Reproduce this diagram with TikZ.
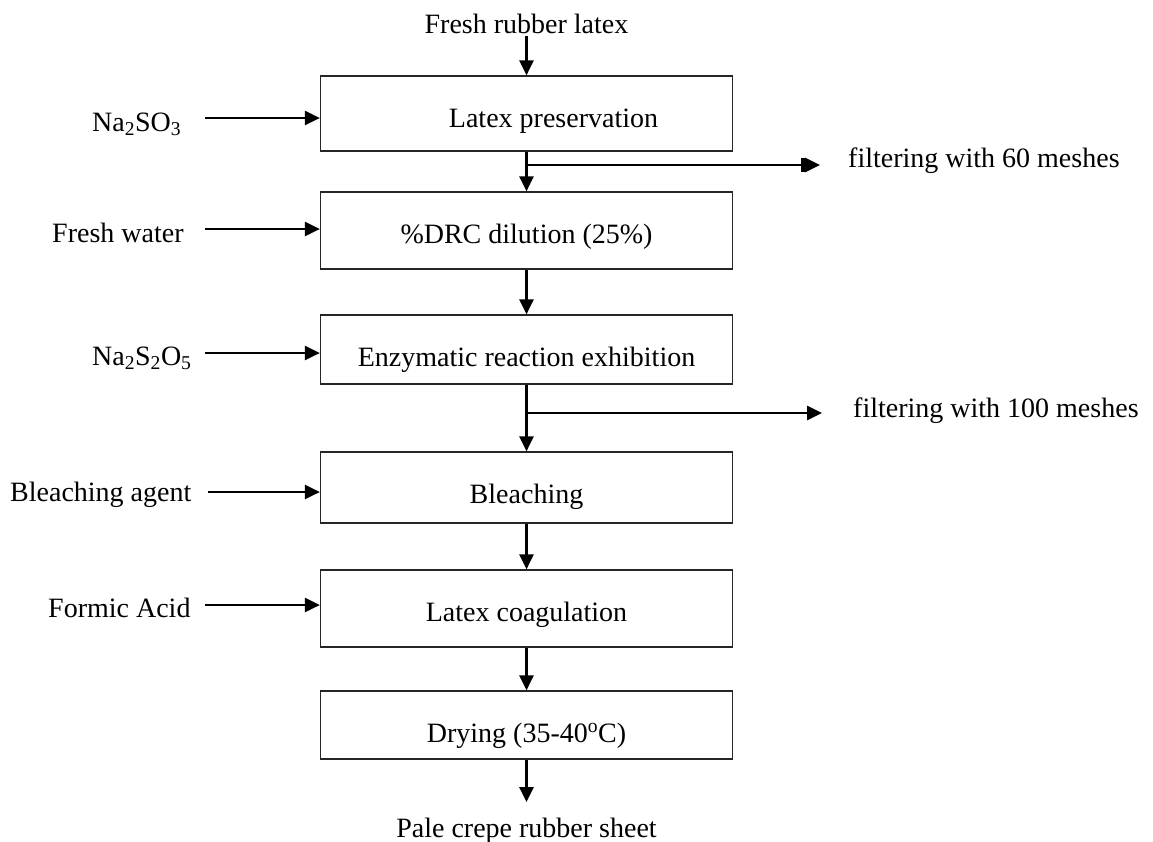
\documentclass[tikz,border=0pt]{standalone}
\usepackage{fontspec}
\setmainfont{Liberation Serif}
\usetikzlibrary{arrows.meta}

\begin{document}
\begin{tikzpicture}[x=1pt,y=-1pt,
  txt/.style={font=\fontsize{28}{34}\selectfont, inner sep=0pt},
  stepbox/.style={draw=black!85, line width=1.2pt, rectangle, inner sep=0pt,
    minimum width=412pt, text height=51pt, font=\fontsize{28}{34}\selectfont},
  flow/.style={line width=2.6pt, -{Triangle[length=15pt,width=14pt]}},
  flowbar/.style={line width=2.6pt,
    -{Bar[width=14pt,line width=4pt,sep=0pt]Triangle[length=15pt,width=14pt]}}]

  \useasboundingbox (0,0) rectangle (1153,841);

  % process steps
  \node[stepbox, text depth=24pt] (b1) at (526.5,113.5) {\hspace*{54pt}Latex preservation};
  \node[stepbox, text depth=26pt] (b2) at (526.5,230.5) {\%DRC dilution (25\%)};
  \node[stepbox, text depth=18pt] (b3) at (526.5,349.5) {Enzymatic reaction exhibition};
  \node[stepbox, text depth=20pt] (b4) at (526.5,487.5) {Bleaching};
  \node[stepbox, text depth=26pt] (b5) at (526.5,608.5) {Latex coagulation};
  \node[stepbox, text depth=17pt] (b6) at (526.5,725) {Drying (35-40\textsuperscript{o}C)};

  % feed and product
  \node[txt, anchor=base] (feed) at (526.5,33) {Fresh rubber latex};
  \coordinate (feedend) at (526.5,36);
  \node[txt, anchor=base] (prod) at (526.5,837) {Pale crepe rubber sheet};
  \coordinate (prodtop) at (526.5,802);

  % main flow
  \draw[flow] (feedend) -- (b1.north);
  \draw[flow] (b1.south) -- (b2.north);
  \draw[flow] (b2.south) -- (b3.north);
  \draw[flow] (b3.south) -- (b4.north);
  \draw[flow] (b4.south) -- (b5.north);
  \draw[flow] (b5.south) -- (b6.north);
  \draw[flow] (b6.south) -- (prodtop);

  % filtering side streams
  \coordinate (f1) at (820,165);
  \coordinate (f2) at (822,413);
  \draw[flowbar] (b1.south |- f1) -- (f1);
  \draw[flow] (b3.south |- f2) -- (f2);
  \node[txt, anchor=base west] (f1t) at (848,167) {filtering with 60 meshes};
  \node[txt, anchor=base west] (f2t) at (853,417) {filtering with 100 meshes};

  % additions
  \node[txt, anchor=base west] (a1) at (92,131) {Na\textsubscript{2}SO\textsubscript{3}};
  \node[txt, anchor=base west] (a2) at (52,242) {Fresh water};
  \node[txt, anchor=base west] (a3) at (92,365) {Na\textsubscript{2}S\textsubscript{2}O\textsubscript{5}};
  \node[txt, anchor=base west] (a4) at (10,501) {Bleaching agent};
  \node[txt, anchor=base west] (a5) at (48,617) {Formic Acid};

  \coordinate (i1) at (205,118);
  \coordinate (i2) at (205,229);
  \coordinate (i3) at (205,353);
  \coordinate (i4) at (208,492);
  \coordinate (i5) at (205,605);
  \draw[flow] (i1) -- (i1 -| b1.west);
  \draw[flow] (i2) -- (i2 -| b2.west);
  \draw[flow] (i3) -- (i3 -| b3.west);
  \draw[flow] (i4) -- (i4 -| b4.west);
  \draw[flow] (i5) -- (i5 -| b5.west);
\end{tikzpicture}
\end{document}
